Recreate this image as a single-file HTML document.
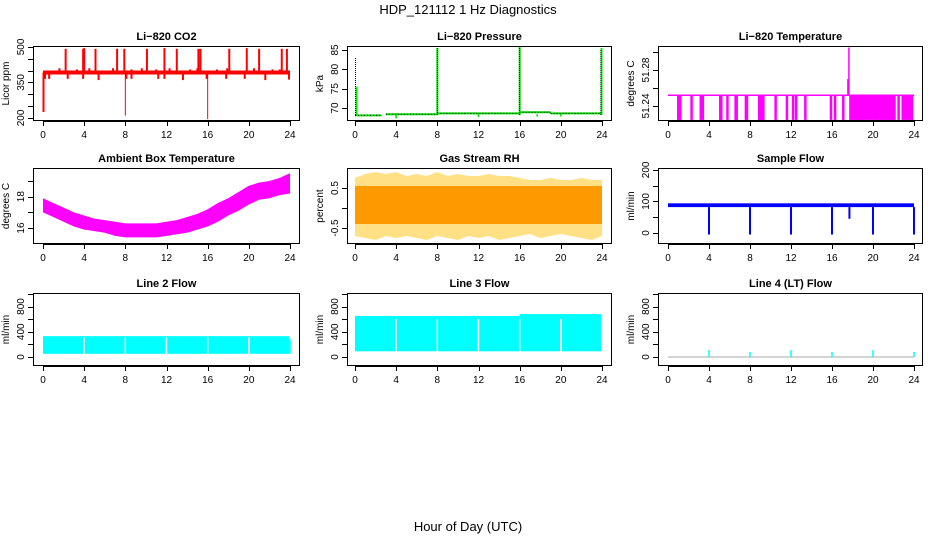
<!DOCTYPE html>
<html><head><meta charset="utf-8"><title>HDP_121112 1 Hz Diagnostics</title>
<style>
html,body{margin:0;padding:0;background:#fff;}
svg{display:block;font-family:"Liberation Sans",sans-serif;}
</style></head>
<body>
<svg id="fig" width="936" height="540" viewBox="0 0 936 540" xmlns="http://www.w3.org/2000/svg">
<text x="468" y="14" text-anchor="middle" font-size="13">HDP_121112  1 Hz Diagnostics</text>
<text x="468" y="531" text-anchor="middle" font-size="13">Hour of Day (UTC)</text>
</svg>
<script>
// ---- data arrays ----
const xTicks = [0,4,8,12,16,20,24];
// CO2
const co2Base = 392;
const co2UpHours = [2.2,3.9,4.0,5.1,7.2,7.9,10.1,11.8,13.0,15.1,15.3,18.1,19.8,21.0,23.2,23.7];
const co2UpVals  = [492,492,495,492,492,492,492,495,492,492,492,492,495,492,492,492];
const co2SmallHours = [1.6,3.3,4.5,6.8,8.6,9.6,11.0,12.3,14.3,15.0,16.9,17.9,20.5,22.3,23.0];
const co2SmallVals  = [410,405,410,410,405,410,405,410,405,410,405,410,410,405,405];
const co2DownHours = [0.05,0.2,0.6,2.4,3.9,5.4,8.1,8.6,11.2,11.8,13.6,15.9,17.8,19.6,21.6,23.9];
const co2DownVals  = [225,365,365,365,365,360,365,365,365,365,360,365,365,365,360,362];
const co2DeepHours = [8.0,16.0];
const co2DeepVals  = [210,195];
// Pressure
const presSegStart = [0,3,8,16,19];
const presSegEnd   = [2.6,8,16,19,24];
const presSegVal   = [68.1,68.4,68.6,68.9,68.6];
const presSpikeHours = [0.15,8.0,16.0,23.95];
const presSpikeVals  = [75.5,85.5,86.0,85.5];
const presBlackHours = [0.05,8.0,16.0,23.9];
const presBlackVals  = [83,85.5,86,85];
const presDipHours = [4.0,12.0,17.7,20.0];
const presDipVals  = [67.3,67.7,67.8,67.8];
// Li-820 temperature
const tempBase = 51.252;
const tempDipHours = [1.0,1.2,2.3,3.2,3.4,5.1,5.2,5.8,6.6,6.7,7.6,7.7,8.9,9.1,9.2,9.3,10.5,11.6,12.2,12.5,13.4,15.9,16.3,17.1,
 17.8,17.9,18.1,18.3,18.4,18.6,18.7,18.8,19.0,19.1,19.3,19.5,19.6,19.8,20.0,20.2,20.3,20.5,20.7,20.8,21.0,21.1,21.3,21.5,21.6,21.8,22.0,22.1,22.5,22.9,23.1,23.3,23.4,23.6,23.8];
const tempDipVal = 51.2245;
const tempUpHours = [17.55,17.65];
const tempUpVals = [51.270,51.305];
// Ambient box temperature band
const ambHours = [0,1,2,3,4,5,6,7,8,9,10,11,12,13,14,15,16,17,18,19,20,21,22,23,24];
const ambLow   = [17.0,16.7,16.4,16.1,15.9,15.8,15.7,15.5,15.4,15.4,15.4,15.4,15.5,15.6,15.7,15.9,16.1,16.4,16.8,17.1,17.5,17.8,17.9,18.1,18.2];
const ambHigh  = [17.9,17.6,17.3,17.0,16.8,16.6,16.5,16.4,16.3,16.3,16.3,16.3,16.4,16.5,16.7,16.9,17.2,17.6,17.9,18.3,18.7,18.9,19.0,19.2,19.5];
// Gas stream RH band
const rhHours = [0,1,2,3,4,5,6,7,8,9,10,11,12,13,14,15,16,17,18,19,20,21,22,23,24];
const rhLow   = [-0.7,-0.75,-0.8,-0.7,-0.75,-0.7,-0.75,-0.8,-0.7,-0.75,-0.8,-0.7,-0.75,-0.7,-0.8,-0.75,-0.7,-0.65,-0.75,-0.7,-0.65,-0.7,-0.75,-0.8,-0.7];
const rhHigh  = [0.75,0.85,0.9,0.85,0.9,0.8,0.85,0.8,0.9,0.8,0.85,0.8,0.8,0.85,0.8,0.8,0.75,0.7,0.7,0.75,0.7,0.7,0.75,0.7,0.7];
const rhCoreLow = -0.4, rhCoreHigh = 0.55;
// Sample flow
const sfLow = 82, sfHigh = 94;
const sfDropHours = [4,8,12,16,17.7,20,24];
const sfDropVals  = [-5,-5,-5,-5,45,-5,-5];
// Line 2/3/4 flows
const gapHours = [4,8,12,16,20];
const l2Low = 50, l2High = 330;
const l3Low = 90;
const l3SegStart = [0,16];
const l3SegEnd = [16,23.9];
const l3SegHigh = [650,680];
const l4SpikeHours = [4,8,12,16,20,24];
const l4SpikeVals  = [110,80,110,80,110,80];

// ---- layout ----
const cols=[{l:33,r:300,x0:43,x24:290},{l:347,r:612,x0:355,x24:602},{l:658,r:923,x0:668,x24:914}];
const rows=[{t:46,b:121},{t:168,b:244},{t:293,b:366}];
const svg=document.getElementById('fig');
const NS='http://www.w3.org/2000/svg';
function mk(tag,attrs,parent){const e=document.createElementNS(NS,tag);for(const k in attrs)e.setAttribute(k,attrs[k]);(parent||svg).appendChild(e);return e;}

function panel(name,title,ci,ri,yTop,yBot,yTickVals,yLabelVals,yTitle,yFmt){
  const c=cols[ci],r=rows[ri];
  const g=mk('g',{});
  
  
  const X=h=>c.x0+(c.x24-c.x0)*h/24;
  const Y=v=>r.t+(yTop-v)/(yTop-yBot)*(r.b-r.t);
  const t=mk('text',{x:(c.l+c.r)/2,y:r.t-6,'text-anchor':'middle','font-size':11,'font-weight':'bold'},g);
  t.textContent=title;
  
  
  const plot=mk('g',{},g);
  
  
  const ax=mk('g',{stroke:'#000','stroke-width':1,fill:'none'},g);
  
  
  mk('rect',{x:c.l+0.5,y:r.t+0.5,width:c.r-c.l-1,height:r.b-r.t-1},ax);
  mk('line',{x1:X(0),x2:X(24),y1:r.b+0.5,y2:r.b+0.5},ax);
  xTicks.forEach(h=>{
    mk('line',{x1:Math.round(X(h))+0.5,x2:Math.round(X(h))+0.5,y1:r.b,y2:r.b+5},ax);
    const tl=mk('text',{x:X(h),y:r.b+17,'text-anchor':'middle','font-size':10,fill:'#000',stroke:'none'},g);
    tl.textContent=h;
    
    
  });
  mk('line',{x1:c.l+0.5,x2:c.l+0.5,y1:Y(yTickVals[0]),y2:Y(yTickVals[yTickVals.length-1])},ax);
  yTickVals.forEach(v=>{mk('line',{x1:c.l-5,x2:c.l,y1:Math.round(Y(v))+0.5,y2:Math.round(Y(v))+0.5},ax);});
  yLabelVals.forEach(v=>{
    const yy=Y(v),xx=c.l-9;
    const tl=mk('text',{x:xx,y:yy,'text-anchor':'middle','font-size':10,transform:`rotate(-90 ${xx} ${yy})`},g);
    tl.textContent=yFmt?yFmt(v):v;
    
    
  });
  const yt=c.l-24, ym=(r.t+r.b)/2;
  const yl=mk('text',{x:yt,y:ym,'text-anchor':'middle','font-size':10,transform:`rotate(-90 ${yt} ${ym})`},g);
  yl.textContent=yTitle;
  
  
  return {X,Y,plot};
}
function vline(p,h,v1,v2,color,w){return mk('line',{x1:p.X(h),x2:p.X(h),y1:p.Y(v1),y2:p.Y(v2),stroke:color,'stroke-width':w||1.5},p.plot);}

// CO2
let p=panel('co2','Li\u2212820 CO2',0,0,504,187,[200,250,300,350,400,450,500],[200,350,500],'Licor ppm');
co2UpHours.forEach((h,i)=>vline(p,h,co2Base,co2UpVals[i],'#ff0000',2));
co2SmallHours.forEach((h,i)=>vline(p,h,co2Base,co2SmallVals[i],'#ff0000',2));
co2DownHours.forEach((h,i)=>vline(p,h,co2Base,co2DownVals[i],'#ff0000',2));
co2DeepHours.forEach((h,i)=>vline(p,h,co2Base,co2DeepVals[i],'#ff0000',1));
mk('line',{x1:p.X(0),x2:p.X(24),y1:p.Y(co2Base),y2:p.Y(co2Base),stroke:'#ff0000','stroke-width':4},p.plot);

// Pressure
p=panel('pressure','Li\u2212820 Pressure',1,0,86.03,66.64,[70,75,80,85],[70,75,80,85],'kPa');
presSegStart.forEach((s,i)=>mk('line',{x1:p.X(s),x2:p.X(presSegEnd[i]),y1:p.Y(presSegVal[i]),y2:p.Y(presSegVal[i]),stroke:'#00dd00','stroke-width':2},p.plot));
presSegStart.forEach((s,i)=>mk('line',{x1:p.X(s),x2:p.X(presSegEnd[i]),y1:p.Y(presSegVal[i]),y2:p.Y(presSegVal[i]),stroke:'#000','stroke-width':1,'stroke-dasharray':'1 2'},p.plot));
presSpikeHours.forEach((h,i)=>vline(p,h,68.2,presSpikeVals[i],'#00ee00',2));
presBlackHours.forEach((h,i)=>{const l=vline(p,h,68.2,presBlackVals[i],'#000',1);l.setAttribute('stroke-dasharray','1 1');});
presDipHours.forEach((h,i)=>vline(p,h,68.4,presDipVals[i],'#00dd00',1.5));

// Li-820 temperature
p=panel('li820-temp','Li\u2212820 Temperature',2,0,51.3067,51.2233,[51.24,51.26,51.28,51.30],[51.24,51.28],'degrees C',v=>v.toFixed(2));
tempDipHours.forEach(h=>vline(p,h,tempBase,tempDipVal,'#ff00ff',2.5));
tempUpHours.forEach((h,i)=>vline(p,h,tempBase,tempUpVals[i],'#ff00ff',1.5));
mk('line',{x1:p.X(0),x2:p.X(24),y1:p.Y(tempBase),y2:p.Y(tempBase),stroke:'#ff00ff','stroke-width':1.5},p.plot);

function band(p,hours,lo,hi,fill){
  let d='M'+hours.map((h,i)=>p.X(h)+','+p.Y(hi[i])).join('L');
  d+='L'+hours.slice().reverse().map((h,i)=>p.X(h)+','+p.Y(lo[hours.length-1-i])).join('L')+'Z';
  return mk('path',{d,fill,stroke:'none'},p.plot);
}
// Ambient
p=panel('ambient-temp','Ambient Box Temperature',0,1,19.83,14.98,[16,17,18,19],[16,18],'degrees C');
band(p,ambHours,ambLow,ambHigh,'#ff00ff');

// RH
p=panel('gas-rh','Gas Stream RH',1,1,1.0,-0.9,[-0.5,0,0.5],[-0.5,0.5],'percent');
band(p,rhHours,rhLow,rhHigh,'#ffcc33').setAttribute('opacity','0.6');
mk('rect',{x:p.X(0),y:p.Y(rhCoreHigh),width:p.X(24)-p.X(0),height:p.Y(rhCoreLow)-p.Y(rhCoreHigh),fill:'#ff9900'},p.plot);

// Sample flow
p=panel('sample-flow','Sample Flow',2,1,206,-35,[0,50,100,150,200],[0,100,200],'ml/min');
mk('rect',{x:p.X(0),y:p.Y(sfHigh),width:p.X(24)-p.X(0),height:p.Y(sfLow)-p.Y(sfHigh),fill:'#0000ff'},p.plot);
sfDropHours.forEach((h,i)=>vline(p,h,sfLow,sfDropVals[i],'#0000ff',2));

// Line 2
p=panel('line2-flow','Line 2 Flow',0,2,1014,-143,[0,200,400,600,800,1000],[0,400,800],'ml/min');
mk('rect',{x:p.X(0),y:p.Y(l2High),width:p.X(23.9)-p.X(0),height:p.Y(l2Low)-p.Y(l2High),fill:'#00ffff'},p.plot);
vline(p,24,l2Low,280,'#00ffff',1.5);
gapHours.forEach(h=>vline(p,h,l2Low-5,l2High-20,'#ffffff',1.5));

// Line 3
p=panel('line3-flow','Line 3 Flow',1,2,1014,-143,[0,200,400,600,800,1000],[0,400,800],'ml/min');
l3SegStart.forEach((s,i)=>mk('rect',{x:p.X(s),y:p.Y(l3SegHigh[i]),width:p.X(l3SegEnd[i])-p.X(s),height:p.Y(l3Low)-p.Y(l3SegHigh[i]),fill:'#00ffff'},p.plot));
gapHours.forEach(h=>vline(p,h,l3Low-5,600,'#ffffff',1.5));

// Line 4
p=panel('line4-flow','Line 4 (LT) Flow',2,2,1014,-143,[0,200,400,600,800,1000],[0,400,800],'ml/min');
mk('line',{x1:p.X(0),x2:p.X(24),y1:p.Y(0),y2:p.Y(0),stroke:'#aaaaaa','stroke-width':1},p.plot);
l4SpikeHours.forEach((h,i)=>vline(p,h,0,l4SpikeVals[i],'#00ffff',1.5));
</script>
</body></html>
